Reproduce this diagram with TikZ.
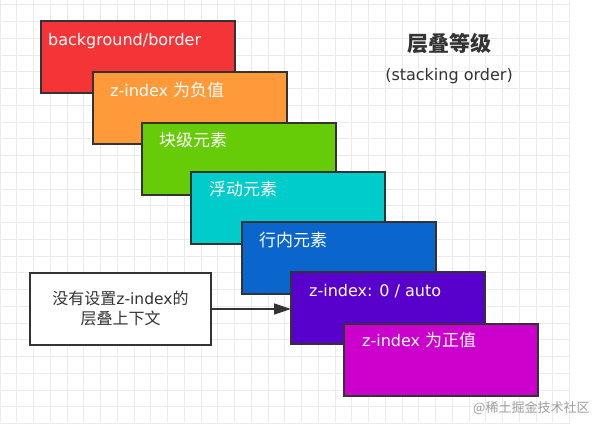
\documentclass[tikz,border=0pt]{standalone}
\usepackage{fontspec}
\setmainfont{DejaVu Sans}
\newfontfamily\cjk{Noto Sans CJK SC}
\usetikzlibrary{arrows.meta}
\definecolor{edge}{HTML}{333333}
\definecolor{gridc}{HTML}{EBEBEB}
\definecolor{cred}{HTML}{F53438}
\definecolor{corange}{HTML}{FF9A3A}
\definecolor{cgreen}{HTML}{66CC08}
\definecolor{ccyan}{HTML}{00CCCC}
\definecolor{cblue}{HTML}{0A66CC}
\definecolor{cpurple}{HTML}{5800CC}
\definecolor{cmagenta}{HTML}{CC00CC}
\definecolor{txt}{HTML}{333333}
\newcommand{\zh}[1]{{\cjk\fontsize{17}{20}\selectfont #1}}
\begin{document}
\begin{tikzpicture}[x=1pt,y=-1pt,
  layerbox/.style={draw=edge, line width=1.3pt, anchor=north west,
    minimum width=194pt, minimum height=72pt, inner sep=0pt, outer sep=0pt},
  lbl/.style={anchor=base west, text=white, inner sep=0pt,
    font=\fontsize{16}{19}\selectfont},
  gridline/.style={draw=gridc, line width=0.8pt},
  arr/.style={draw=edge, line width=1.5pt, -{Triangle[length=17pt,width=11pt]}}]
\useasboundingbox (0,0) rectangle (599,429);
\fill[white] (0,0) rectangle (599,429);
% grid
\foreach \k in {0,...,34} {\draw[gridline] (16.75*\k,0) -- (16.75*\k,422);}
\foreach \k in {0,...,25} {\draw[gridline] (0,4.7+16.75*\k) -- (570,4.7+16.75*\k);}
% layers
\node[layerbox, fill=cred] (r) at (41,21) {};
\node[lbl] (rl) at (48,45) {background/border};
\node[layerbox, fill=corange] (o) at (93,72) {};
\node[lbl] (ol) at (110,96.5) {z-index \zh{为负值}};
\node[layerbox, fill=cgreen] (g) at (142,123) {};
\node[lbl] (gl) at (159,146) {\zh{块级元素}};
\node[layerbox, fill=ccyan] (c) at (191,172) {};
\node[lbl] (cl) at (209,195) {\zh{浮动元素}};
\node[layerbox, fill=cblue] (b) at (242,222) {};
\node[lbl] (bl) at (259,246) {\zh{行内元素}};
\node[layerbox, fill=cpurple] (p) at (291,272) {};
\node[lbl] (pl) at (309,296) {z-index: 0 / auto};
\node[layerbox, fill=cmagenta] (m) at (344,324) {};
\node[lbl] (ml) at (362,346) {z-index \zh{为正值}};
% title
\node[anchor=base, inner sep=0pt, text=txt, font=\cjk\bfseries\fontsize{21}{24}\selectfont] (t1) at (449,51) {层叠等级};
\node[anchor=base, inner sep=0pt, text=txt, font=\fontsize{16}{19}\selectfont] (t2) at (449,80) {(stacking order)};
% side box
\node[draw=edge, line width=1.3pt, fill=white, anchor=north west, minimum width=181pt,
  minimum height=72pt, inner sep=0pt, outer sep=0pt] (w) at (30,273) {};
\node[anchor=base, inner sep=0pt, text=txt, font=\fontsize{15.5}{18}\selectfont] (w1) at (120.5,304)
  {{\cjk\fontsize{16}{19}\selectfont 没有设置}z-index{\cjk\fontsize{16}{19}\selectfont 的}};
\node[anchor=base, inner sep=0pt, text=txt, font=\cjk\fontsize{16}{19}\selectfont] (w2) at (120.5,324) {层叠上下文};
\draw[arr] (w.east) -- (w.east -| p.west);
% watermark
\node[anchor=base west, inner sep=0pt, text=black!38, font=\cjk\fontsize{13}{15}\selectfont] (wm) at (473,412) {@稀土掘金技术社区};
\end{tikzpicture}
\end{document}
